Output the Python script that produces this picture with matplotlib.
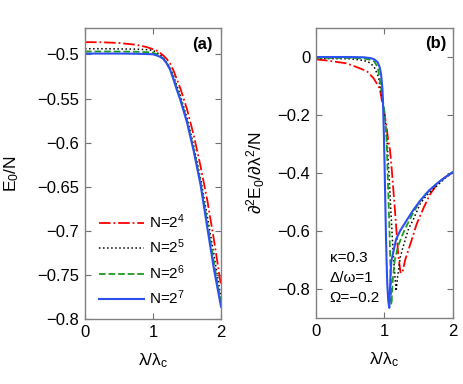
import matplotlib
matplotlib.use("Agg")
from matplotlib import pyplot as plt
from matplotlib.ticker import FuncFormatter

plt.rcParams['font.family'] = ['Liberation Sans', 'DejaVu Sans']
plt.rcParams['mathtext.fontset'] = 'custom'
plt.rcParams['mathtext.rm'] = 'Liberation Sans'
plt.rcParams['mathtext.it'] = 'Liberation Sans'
plt.rcParams['mathtext.bf'] = 'Liberation Sans:bold'

# ---- panel (a): ground state energy per particle
lam_a = [0, 0.25, 0.5, 0.75, 0.9, 1.0, 1.05, 1.1, 1.15, 1.2, 1.25, 1.3, 1.35, 1.4,
         1.5, 1.6, 1.7, 1.8, 1.9, 2.0]
e_n4 = [-0.486, -0.4862, -0.487, -0.489, -0.4915, -0.494, -0.4955, -0.498, -0.501, -0.505,
        -0.51, -0.518, -0.528, -0.538, -0.562, -0.592, -0.627, -0.666, -0.712, -0.762]
e_n5 = [-0.4935, -0.4935, -0.4937, -0.494, -0.4945, -0.4955, -0.4975, -0.5, -0.504, -0.509,
        -0.515, -0.524, -0.535, -0.546, -0.572, -0.604, -0.641, -0.684, -0.729, -0.776]
e_n6 = [-0.4966, -0.4966, -0.4967, -0.4969, -0.4973, -0.498, -0.4995, -0.5015, -0.5045, -0.5095,
        -0.516, -0.526, -0.538, -0.549, -0.575, -0.608, -0.645, -0.691, -0.738, -0.782]
e_n7 = [-0.499, -0.499, -0.499, -0.4992, -0.4995, -0.4998, -0.501, -0.5025, -0.505, -0.51,
        -0.517, -0.528, -0.54, -0.551, -0.577, -0.61, -0.648, -0.697, -0.745, -0.786]

# ---- panel (b): second derivative
lam_b4 = [0, 0.16, 0.45, 0.74, 0.84, 0.93, 0.97, 1.0, 1.03, 1.05, 1.08, 1.1, 1.15, 1.2,
          1.235, 1.27, 1.3, 1.39, 1.47, 1.57, 1.66, 1.76, 1.88, 2.0]
d_n4 = [-0.008, -0.012, -0.022, -0.048, -0.073, -0.108, -0.16, -0.194, -0.24, -0.28, -0.32,
        -0.37, -0.52, -0.68, -0.745, -0.735, -0.70, -0.635, -0.575, -0.52, -0.475, -0.44,
        -0.415, -0.397]
lam_b5 = [0, 0.5, 0.7, 0.79, 0.85, 0.91, 0.97, 1.01, 1.04, 1.06, 1.09, 1.125, 1.15, 1.17,
          1.19, 1.23, 1.27, 1.35, 1.42, 1.52, 1.62, 1.76, 1.9, 2.0]
d_n5 = [-0.005, -0.006, -0.012, -0.02, -0.035, -0.067, -0.15, -0.22, -0.3, -0.38, -0.518,
        -0.668, -0.75, -0.806, -0.76, -0.69, -0.655, -0.592, -0.56, -0.506, -0.475, -0.445,
        -0.414, -0.398]
lam_b6 = [0, 0.5, 0.7, 0.8, 0.85, 0.9, 0.93, 0.965, 1.0, 1.03, 1.05, 1.07, 1.09, 1.1,
          1.12, 1.15, 1.2, 1.25, 1.3, 1.4, 1.5, 1.6, 1.76, 1.9, 2.0]
d_n6 = [-0.003, -0.003, -0.005, -0.01, -0.015, -0.035, -0.075, -0.13, -0.19, -0.28, -0.43,
        -0.575, -0.75, -0.853, -0.77, -0.70, -0.65, -0.62, -0.592, -0.545, -0.503, -0.472,
        -0.437, -0.412, -0.396]
lam_b7 = [0, 0.5, 0.7, 0.8, 0.85, 0.9, 0.93, 0.95, 0.97, 0.98, 0.99, 1.0, 1.01, 1.02, 1.03,
          1.04, 1.055, 1.07, 1.08, 1.09, 1.1, 1.13, 1.17, 1.23, 1.32, 1.42, 1.52, 1.65, 1.79,
          1.9, 2.0]
d_n7 = [0.0, 0.0, -0.001, -0.004, -0.008, -0.018, -0.035, -0.06, -0.11, -0.17, -0.26, -0.36,
        -0.48, -0.6, -0.7, -0.78, -0.84, -0.864, -0.80, -0.74, -0.703, -0.67, -0.627, -0.598,
        -0.564, -0.527, -0.495, -0.46, -0.431, -0.412, -0.396]

labels = ['N=2$^4$', 'N=2$^5$', 'N=2$^6$', 'N=2$^7$']
params = ['κ=0.3', 'Δ/ω=1', 'Ω=−0.2']

colors = ['#ff0000', '#000000', '#1f9a1f', '#2a50f0']
styles = ['-.', ':', '--', '-']
widths = [1.3, 1.1, 1.3, 1.5]

fig = plt.figure(figsize=(4.63, 3.84), dpi=100)
ax1 = fig.add_axes([0.1836, 0.1693, 0.2937, 0.7578])
ax2 = fig.add_axes([0.6825, 0.1711, 0.2959, 0.7560])

fmt = FuncFormatter(lambda v, p: f'{v:g}'.replace('-', '\u2212'))

for ys, c, ls, lw, lab in zip([e_n4, e_n5, e_n6, e_n7], colors, styles, widths, labels):
    ax1.plot(lam_a, ys, color=c, ls=ls, lw=lw, label=lab)

for xs, ys, c, ls, lw in zip([lam_b4, lam_b5, lam_b6, lam_b7], [d_n4, d_n5, d_n6, d_n7],
                             colors, styles, widths):
    ax2.plot(xs, ys, color=c, ls=ls, lw=lw)

ax1.set_xlim(0, 2)
ax1.set_ylim(-0.8, -0.47)
ax1.set_yticks([-0.8, -0.75, -0.7, -0.65, -0.6, -0.55, -0.5])
ax2.set_xlim(0, 2)
ax2.set_ylim(-0.9, 0.1)
ax2.set_yticks([-0.8, -0.6, -0.4, -0.2, 0])

for ax in (ax1, ax2):
    ax.set_xticks([0, 1, 2])
    ax.yaxis.set_major_formatter(fmt)
    ax.xaxis.set_major_formatter(fmt)
    ax.tick_params(direction='in', top=True, right=True, length=4, width=0.8,
                   color='#707070', labelsize=12, pad=4)
    for s in ax.spines.values():
        s.set_color('#808080')
        s.set_linewidth(1.0)
    ax.set_xlabel(r'$\mathregular{\lambda/\lambda_c}$', fontsize=12.5)
    ax.xaxis.set_label_coords(0.5, -0.11)

ax1.set_ylabel(r'$\mathregular{E_0/N}$', fontsize=12.5)
ax1.yaxis.set_label_coords(-0.47, 0.5)
ax2.set_ylabel(r'$\mathregular{\partial^2E_0/\partial\lambda^2/N}$', fontsize=12.5)
ax2.yaxis.set_label_coords(-0.36, 0.5)

ax1.text(0.864, 0.943, '(a)', transform=ax1.transAxes, ha='center', va='center',
         fontsize=12, fontweight='bold')
ax2.text(0.872, 0.945, '(b)', transform=ax2.transAxes, ha='center', va='center',
         fontsize=12, fontweight='bold')

ax1.legend(loc='lower left', bbox_to_anchor=(0.1, 0.04), frameon=False, fontsize=11,
           handlelength=3.0, handletextpad=0.3, borderpad=0, borderaxespad=0,
           labelspacing=0.45)

for i, t in enumerate(params):
    ax2.text(0.10, 0.208 - i * 0.069, t, transform=ax2.transAxes, ha='left', va='center',
             fontsize=11)

fig.savefig('out.png', dpi=100)
